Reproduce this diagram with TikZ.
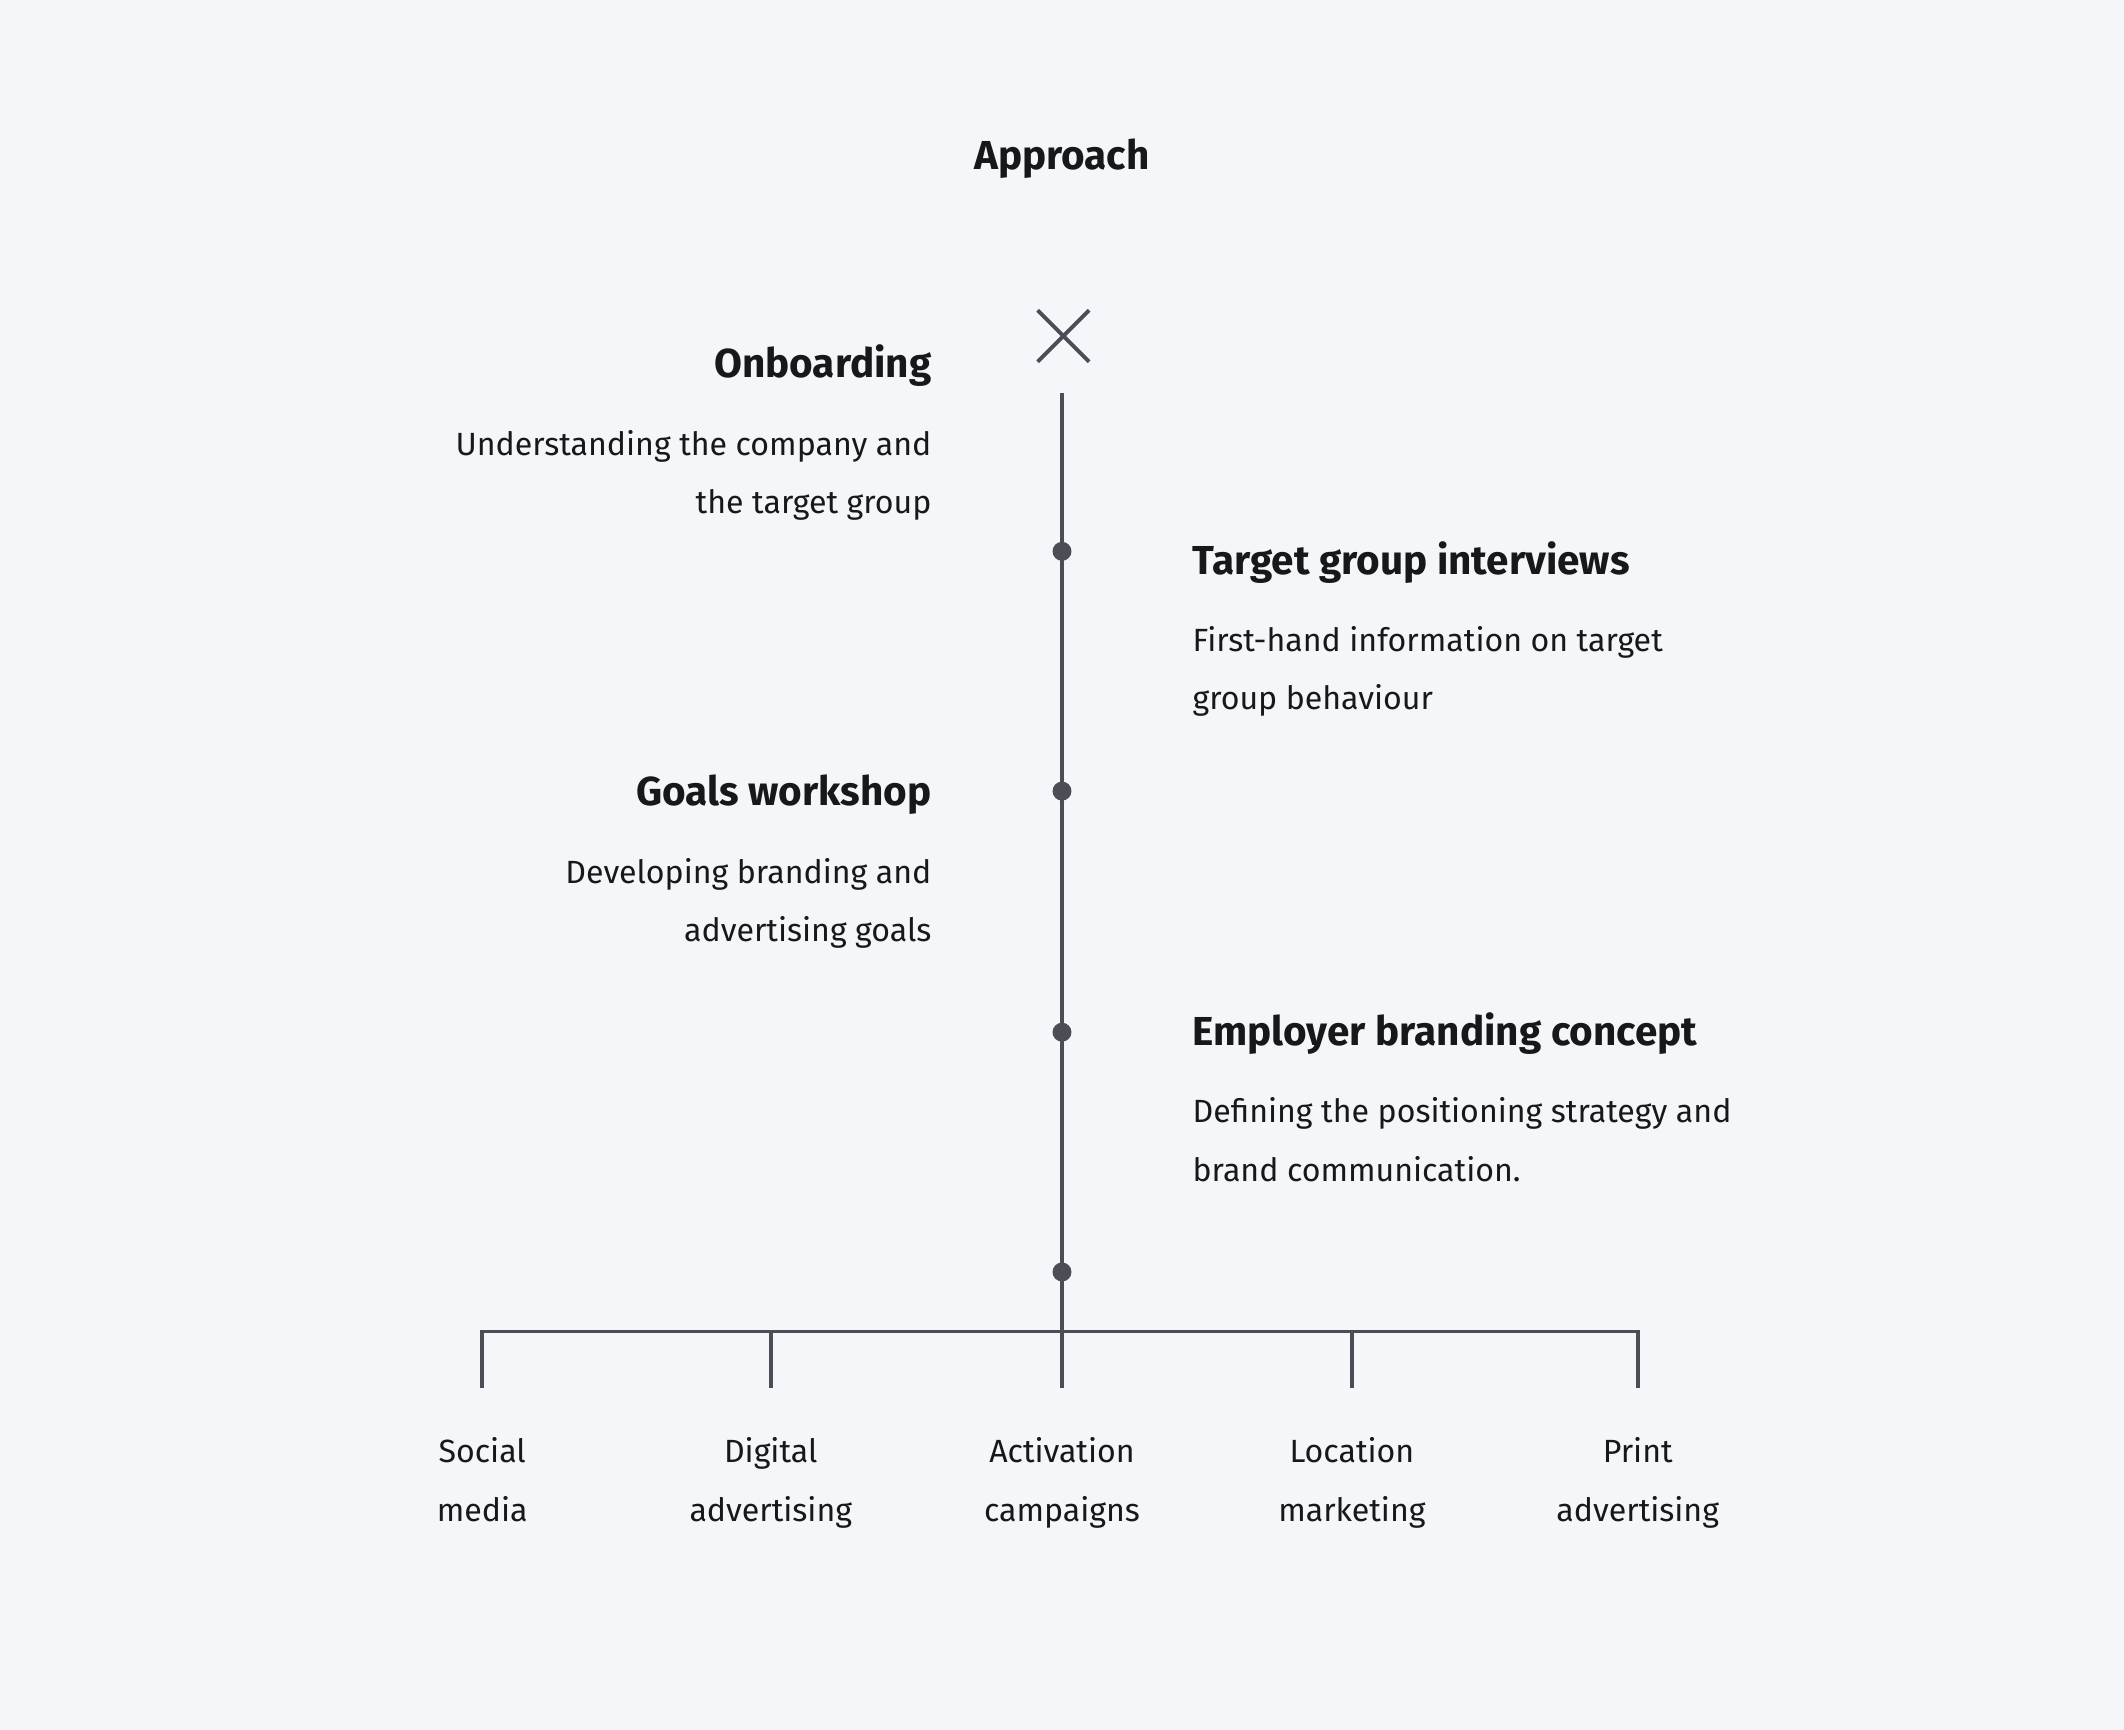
\documentclass[tikz,border=0pt]{standalone}
\usepackage{fontspec}
\setmainfont{Fira Sans}
\definecolor{bgcol}{HTML}{F5F6FA}
\definecolor{linecol}{HTML}{4C4D57}
\definecolor{txtcol}{HTML}{17181C}
\tikzstyle{headtxt} = [inner sep=0pt, text=txtcol, font=\fontsize{17}{20}\selectfont\bfseries]
\tikzstyle{desctxt} = [inner sep=0pt, text=txtcol, font=\fontsize{13.5}{24.6}\selectfont]
\tikzstyle{leaftxt} = [inner sep=0pt, text=txtcol, align=center, font=\fontsize{13.5}{24.6}\selectfont]
\tikzstyle{dot} = [circle, fill=linecol, inner sep=0pt, minimum size=0.28cm]
\begin{document}
\begin{tikzpicture}[x=0.02cm, y=-0.02cm, line width=1.6pt, draw=linecol]
\fill[bgcol] (0,0) rectangle (1568,1277);
\useasboundingbox (0,0) rectangle (1568,1277);
%Title
\node (title) [headtxt, anchor=base] at (784,125) {Approach};
%Start mark
\draw[linecol] (766,229) -- (804,267) (804,229) -- (766,267);
%Timeline
\coordinate (top) at (784,290);
\coordinate (fork) at (784,983);
\node (d1) [dot] at (784,407) {};
\node (d2) [dot] at (784,584) {};
\node (d3) [dot] at (784,762) {};
\node (d4) [dot] at (784,939) {};
\draw[linecol] (top) -- (fork);
%Steps
\node (onb) [headtxt, anchor=base east] at (689,279) {Onboarding};
\node (onbd) [desctxt, anchor=north east, align=right] at (689,316) {Understanding the company and\\the target group};
\node (tgi) [headtxt, anchor=base west] at (879,424) {Target group interviews};
\node (tgid) [desctxt, anchor=north west, align=left] at (879,461) {First-hand information on target\\group behaviour};
\node (gw) [headtxt, anchor=base east] at (689,595) {Goals workshop};
\node (gwd) [desctxt, anchor=north east, align=right] at (689,632) {Developing branding and\\advertising goals};
\node (ebc) [headtxt, anchor=base west] at (879,772) {Employer branding concept};
\node (ebcd) [desctxt, anchor=north west, align=left] at (879,809) {Defining the positioning strategy and\\brand communication.};
%Channels
\draw[linecol] (356,1025) -- (356,983) -- (1209,983) -- (1209,1025);
\foreach \xx/\nm/\lbl in {356/social/Social\\media, 569/digital/Digital\\advertising, 784/activ/Activation\\campaigns, 998/locat/Location\\marketing, 1209/print/Print\\advertising}{
  \draw[linecol] (\xx,983) -- (\xx,1025);
  \node (\nm) [leaftxt, anchor=north] at (\xx,1060) {\lbl};
}
\end{tikzpicture}
\end{document}
